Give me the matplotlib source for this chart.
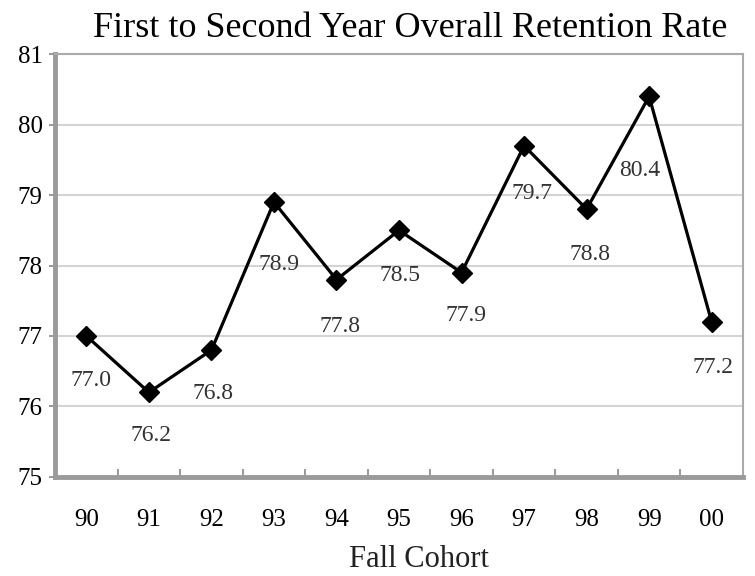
import matplotlib
matplotlib.use("Agg")
import matplotlib.pyplot as plt

# fall cohorts and retention rates (%)
cohorts = ["90", "91", "92", "93", "94", "95", "96", "97", "98", "99", "00"]
rates = [77.0, 76.2, 76.8, 78.9, 77.8, 78.5, 77.9, 79.7, 78.8, 80.4, 77.2]
yticks = [75, 76, 77, 78, 79, 80, 81]

# label offsets in pixels (dx, dy) relative to each point
label_offsets = [(5, -45), (2, -43), (2, -43), (5, -62), (4, -47), (1, -45),
                 (4, -43), (8, -48), (3, -45), (-9, -74), (1, -46)]

plt.rcParams["font.family"] = ["Liberation Serif", "DejaVu Serif"]

fig = plt.figure(figsize=(7.55, 5.76), dpi=100)
ax = fig.add_axes([0.073, 0.172, 0.911, 0.734])

x = list(range(len(cohorts)))
ax.plot(x, rates, color="black", lw=2.3, marker="D", ms=10.5,
        markeredgecolor="black", zorder=3)

for xi, r, (dx, dy) in zip(x, rates, label_offsets):
    ax.annotate(f"{r:.1f}", (xi, r), xytext=(dx, dy), textcoords="offset pixels",
                ha="center", va="center", fontsize=17, color="#333333")

ax.set_xlim(-0.5, len(cohorts) - 0.5)
ax.set_ylim(75, 81)
ax.set_yticks(yticks)
ax.set_yticklabels([str(t) for t in yticks], fontsize=18)
ax.set_xticks(x)
ax.set_xticklabels(cohorts, fontsize=18)
ax.tick_params(axis="x", length=0, pad=23)
ax.set_xticks([i + 0.5 for i in x], minor=True)
ax.tick_params(axis="x", which="minor", direction="in", length=6, width=1.2,
               color="#888888")
ax.tick_params(axis="y", direction="out", length=4, width=1.2, color="#888888",
               pad=5)

ax.grid(axis="y", color="#d4d4d4", lw=1.5)
ax.set_axisbelow(True)
for side in ["left", "bottom"]:
    ax.spines[side].set_color("#9a9a9a")
    ax.spines[side].set_linewidth(3.5)
for side in ["top", "right"]:
    ax.spines[side].set_color("#aaaaaa")
    ax.spines[side].set_linewidth(1.5)

ax.set_title("First to Second Year Overall Retention Rate", fontsize=26,
             pad=12, x=0.516)
ax.set_xlabel("Fall Cohort", fontsize=22, color="#222222")
ax.xaxis.set_label_coords(0.529, -0.162)

fig.savefig("out.png", dpi=100)
